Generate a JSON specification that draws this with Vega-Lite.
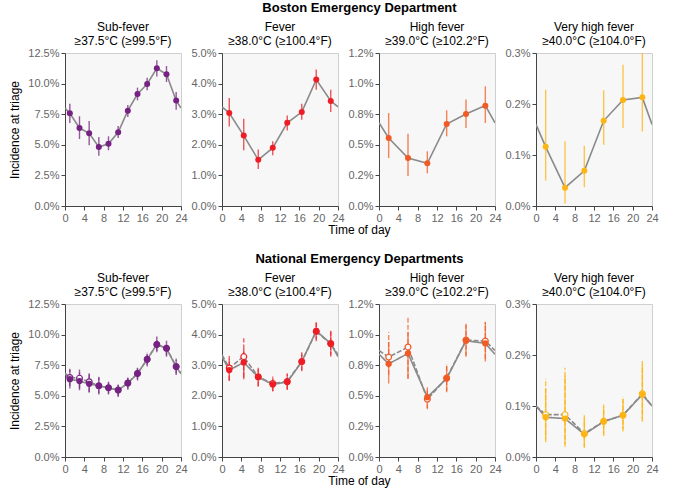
{
  "$schema": "https://vega.github.io/schema/vega-lite/v6.json",
  "padding": {"left": 8, "top": 1, "right": 2, "bottom": 2},
  "background": "white",
  "datasets": {
    "d": [
      {"r": "B", "c": "sub", "s": "a", "t": 0, "v": 8.0},
      {"r": "B", "c": "sub", "s": "a", "t": 1, "v": 7.57, "lo": 6.78, "hi": 8.36},
      {"r": "B", "c": "sub", "s": "a", "t": 3, "v": 6.37, "lo": 5.47, "hi": 7.33},
      {"r": "B", "c": "sub", "s": "a", "t": 5, "v": 5.94, "lo": 4.96, "hi": 6.94},
      {"r": "B", "c": "sub", "s": "a", "t": 7, "v": 4.82, "lo": 4.11, "hi": 5.64},
      {"r": "B", "c": "sub", "s": "a", "t": 9, "v": 5.09, "lo": 4.55, "hi": 5.69},
      {"r": "B", "c": "sub", "s": "a", "t": 11, "v": 6.02, "lo": 5.56, "hi": 6.54},
      {"r": "B", "c": "sub", "s": "a", "t": 13, "v": 7.79, "lo": 7.27, "hi": 8.25},
      {"r": "B", "c": "sub", "s": "a", "t": 15, "v": 9.15, "lo": 8.63, "hi": 9.67},
      {"r": "B", "c": "sub", "s": "a", "t": 17, "v": 9.97, "lo": 9.45, "hi": 10.48},
      {"r": "B", "c": "sub", "s": "a", "t": 19, "v": 11.25, "lo": 10.59, "hi": 11.9},
      {"r": "B", "c": "sub", "s": "a", "t": 21, "v": 10.76, "lo": 10.13, "hi": 11.44},
      {"r": "B", "c": "sub", "s": "a", "t": 23, "v": 8.61, "lo": 7.87, "hi": 9.31},
      {"r": "B", "c": "sub", "s": "a", "t": 24, "v": 8.0},
      {"r": "B", "c": "fev", "s": "a", "t": 0, "v": 3.24},
      {"r": "B", "c": "fev", "s": "a", "t": 1.5, "v": 3.04, "lo": 2.6, "hi": 3.53},
      {"r": "B", "c": "fev", "s": "a", "t": 4.5, "v": 2.3, "lo": 1.82, "hi": 2.85},
      {"r": "B", "c": "fev", "s": "a", "t": 7.5, "v": 1.51, "lo": 1.21, "hi": 1.85},
      {"r": "B", "c": "fev", "s": "a", "t": 10.5, "v": 1.9, "lo": 1.66, "hi": 2.12},
      {"r": "B", "c": "fev", "s": "a", "t": 13.5, "v": 2.72, "lo": 2.47, "hi": 2.96},
      {"r": "B", "c": "fev", "s": "a", "t": 16.5, "v": 3.07, "lo": 2.82, "hi": 3.34},
      {"r": "B", "c": "fev", "s": "a", "t": 19.5, "v": 4.13, "lo": 3.8, "hi": 4.46},
      {"r": "B", "c": "fev", "s": "a", "t": 22.5, "v": 3.43, "lo": 3.07, "hi": 3.8},
      {"r": "B", "c": "fev", "s": "a", "t": 24, "v": 3.24},
      {"r": "B", "c": "hi", "s": "a", "t": 0, "v": 0.68},
      {"r": "B", "c": "hi", "s": "a", "t": 2, "v": 0.556, "lo": 0.392, "hi": 0.76},
      {"r": "B", "c": "hi", "s": "a", "t": 6, "v": 0.392, "lo": 0.245, "hi": 0.591},
      {"r": "B", "c": "hi", "s": "a", "t": 10, "v": 0.349, "lo": 0.267, "hi": 0.447},
      {"r": "B", "c": "hi", "s": "a", "t": 14, "v": 0.67, "lo": 0.569, "hi": 0.782},
      {"r": "B", "c": "hi", "s": "a", "t": 18, "v": 0.752, "lo": 0.637, "hi": 0.871},
      {"r": "B", "c": "hi", "s": "a", "t": 22, "v": 0.82, "lo": 0.678, "hi": 0.978},
      {"r": "B", "c": "hi", "s": "a", "t": 24, "v": 0.68},
      {"r": "B", "c": "vhi", "s": "a", "t": 0, "v": 0.16},
      {"r": "B", "c": "vhi", "s": "a", "t": 2, "v": 0.116, "lo": 0.05, "hi": 0.228},
      {"r": "B", "c": "vhi", "s": "a", "t": 6, "v": 0.036, "lo": 0.005, "hi": 0.127},
      {"r": "B", "c": "vhi", "s": "a", "t": 10, "v": 0.069, "lo": 0.037, "hi": 0.118},
      {"r": "B", "c": "vhi", "s": "a", "t": 14, "v": 0.167, "lo": 0.12, "hi": 0.227},
      {"r": "B", "c": "vhi", "s": "a", "t": 18, "v": 0.208, "lo": 0.153, "hi": 0.277},
      {"r": "B", "c": "vhi", "s": "a", "t": 22, "v": 0.213, "lo": 0.146, "hi": 0.31},
      {"r": "B", "c": "vhi", "s": "a", "t": 24, "v": 0.16},
      {"r": "N", "c": "sub", "s": "a", "t": 0, "v": 6.8},
      {"r": "N", "c": "sub", "s": "a", "t": 1, "v": 6.36, "lo": 5.6, "hi": 7.1},
      {"r": "N", "c": "sub", "s": "a", "t": 3, "v": 6.2, "lo": 5.46, "hi": 6.9},
      {"r": "N", "c": "sub", "s": "a", "t": 5, "v": 5.98, "lo": 5.27, "hi": 6.74},
      {"r": "N", "c": "sub", "s": "a", "t": 7, "v": 5.81, "lo": 5.19, "hi": 6.47},
      {"r": "N", "c": "sub", "s": "a", "t": 9, "v": 5.65, "lo": 5.19, "hi": 6.14},
      {"r": "N", "c": "sub", "s": "a", "t": 11, "v": 5.46, "lo": 4.99, "hi": 5.92},
      {"r": "N", "c": "sub", "s": "a", "t": 13, "v": 6.03, "lo": 5.6, "hi": 6.47},
      {"r": "N", "c": "sub", "s": "a", "t": 15, "v": 6.82, "lo": 6.36, "hi": 7.29},
      {"r": "N", "c": "sub", "s": "a", "t": 17, "v": 7.97, "lo": 7.51, "hi": 8.43},
      {"r": "N", "c": "sub", "s": "a", "t": 19, "v": 9.2, "lo": 8.65, "hi": 9.74},
      {"r": "N", "c": "sub", "s": "a", "t": 21, "v": 8.87, "lo": 8.32, "hi": 9.36},
      {"r": "N", "c": "sub", "s": "a", "t": 23, "v": 7.37, "lo": 6.82, "hi": 7.91},
      {"r": "N", "c": "sub", "s": "a", "t": 24, "v": 6.8},
      {"r": "N", "c": "sub", "s": "b", "t": 0, "v": 6.85},
      {"r": "N", "c": "sub", "s": "b", "t": 1, "v": 6.5, "lo": 5.8, "hi": 7.2},
      {"r": "N", "c": "sub", "s": "b", "t": 3, "v": 6.44, "lo": 5.6, "hi": 7.3},
      {"r": "N", "c": "sub", "s": "b", "t": 5, "v": 6.14, "lo": 5.3, "hi": 7.0},
      {"r": "N", "c": "sub", "s": "b", "t": 7, "v": 5.82, "lo": 5.1, "hi": 6.55},
      {"r": "N", "c": "sub", "s": "b", "t": 9, "v": 5.66, "lo": 5.1, "hi": 6.25},
      {"r": "N", "c": "sub", "s": "b", "t": 11, "v": 5.47, "lo": 4.9, "hi": 6.0},
      {"r": "N", "c": "sub", "s": "b", "t": 13, "v": 6.04, "lo": 5.5, "hi": 6.6},
      {"r": "N", "c": "sub", "s": "b", "t": 15, "v": 6.83, "lo": 6.25, "hi": 7.4},
      {"r": "N", "c": "sub", "s": "b", "t": 17, "v": 7.98, "lo": 7.4, "hi": 8.55},
      {"r": "N", "c": "sub", "s": "b", "t": 19, "v": 9.2, "lo": 8.55, "hi": 9.85},
      {"r": "N", "c": "sub", "s": "b", "t": 21, "v": 8.88, "lo": 8.2, "hi": 9.5},
      {"r": "N", "c": "sub", "s": "b", "t": 23, "v": 7.4, "lo": 6.7, "hi": 8.05},
      {"r": "N", "c": "sub", "s": "b", "t": 24, "v": 6.85},
      {"r": "N", "c": "fev", "s": "a", "t": 0, "v": 3.28},
      {"r": "N", "c": "fev", "s": "a", "t": 1.5, "v": 2.84, "lo": 2.48, "hi": 3.2},
      {"r": "N", "c": "fev", "s": "a", "t": 4.5, "v": 3.09, "lo": 2.54, "hi": 3.53},
      {"r": "N", "c": "fev", "s": "a", "t": 7.5, "v": 2.61, "lo": 2.31, "hi": 2.87},
      {"r": "N", "c": "fev", "s": "a", "t": 10.5, "v": 2.37, "lo": 2.16, "hi": 2.59},
      {"r": "N", "c": "fev", "s": "a", "t": 13.5, "v": 2.45, "lo": 2.21, "hi": 2.7},
      {"r": "N", "c": "fev", "s": "a", "t": 16.5, "v": 3.11, "lo": 2.84, "hi": 3.36},
      {"r": "N", "c": "fev", "s": "a", "t": 19.5, "v": 4.12, "lo": 3.84, "hi": 4.39},
      {"r": "N", "c": "fev", "s": "a", "t": 22.5, "v": 3.71, "lo": 3.33, "hi": 4.09},
      {"r": "N", "c": "fev", "s": "a", "t": 24, "v": 3.28},
      {"r": "N", "c": "fev", "s": "b", "t": 0, "v": 3.34},
      {"r": "N", "c": "fev", "s": "b", "t": 1.5, "v": 2.91, "lo": 2.5, "hi": 3.3},
      {"r": "N", "c": "fev", "s": "b", "t": 4.5, "v": 3.28, "lo": 2.6, "hi": 3.88},
      {"r": "N", "c": "fev", "s": "b", "t": 7.5, "v": 2.62, "lo": 2.3, "hi": 2.92},
      {"r": "N", "c": "fev", "s": "b", "t": 10.5, "v": 2.4, "lo": 2.14, "hi": 2.63},
      {"r": "N", "c": "fev", "s": "b", "t": 13.5, "v": 2.47, "lo": 2.19, "hi": 2.74},
      {"r": "N", "c": "fev", "s": "b", "t": 16.5, "v": 3.12, "lo": 2.8, "hi": 3.42},
      {"r": "N", "c": "fev", "s": "b", "t": 19.5, "v": 4.1, "lo": 3.78, "hi": 4.42},
      {"r": "N", "c": "fev", "s": "b", "t": 22.5, "v": 3.7, "lo": 3.28, "hi": 4.14},
      {"r": "N", "c": "fev", "s": "b", "t": 24, "v": 3.34},
      {"r": "N", "c": "hi", "s": "a", "t": 0, "v": 0.84},
      {"r": "N", "c": "hi", "s": "a", "t": 2, "v": 0.761, "lo": 0.6, "hi": 0.94},
      {"r": "N", "c": "hi", "s": "a", "t": 6, "v": 0.846, "lo": 0.64, "hi": 1.02},
      {"r": "N", "c": "hi", "s": "a", "t": 10, "v": 0.489, "lo": 0.4, "hi": 0.57},
      {"r": "N", "c": "hi", "s": "a", "t": 14, "v": 0.641, "lo": 0.54, "hi": 0.745},
      {"r": "N", "c": "hi", "s": "a", "t": 18, "v": 0.95, "lo": 0.83, "hi": 1.078},
      {"r": "N", "c": "hi", "s": "a", "t": 22, "v": 0.928, "lo": 0.78, "hi": 1.105},
      {"r": "N", "c": "hi", "s": "a", "t": 24, "v": 0.84},
      {"r": "N", "c": "hi", "s": "b", "t": 0, "v": 0.87},
      {"r": "N", "c": "hi", "s": "b", "t": 2, "v": 0.816, "lo": 0.67, "hi": 1.02},
      {"r": "N", "c": "hi", "s": "b", "t": 6, "v": 0.898, "lo": 0.64, "hi": 1.14},
      {"r": "N", "c": "hi", "s": "b", "t": 10, "v": 0.472, "lo": 0.39, "hi": 0.56},
      {"r": "N", "c": "hi", "s": "b", "t": 14, "v": 0.645, "lo": 0.53, "hi": 0.76},
      {"r": "N", "c": "hi", "s": "b", "t": 18, "v": 0.955, "lo": 0.82, "hi": 1.09},
      {"r": "N", "c": "hi", "s": "b", "t": 22, "v": 0.947, "lo": 0.8, "hi": 1.1},
      {"r": "N", "c": "hi", "s": "b", "t": 24, "v": 0.87},
      {"r": "N", "c": "vhi", "s": "a", "t": 0, "v": 0.1},
      {"r": "N", "c": "vhi", "s": "a", "t": 2, "v": 0.078, "lo": 0.035, "hi": 0.135},
      {"r": "N", "c": "vhi", "s": "a", "t": 6, "v": 0.0753, "lo": 0.025, "hi": 0.16},
      {"r": "N", "c": "vhi", "s": "a", "t": 10, "v": 0.0445, "lo": 0.02, "hi": 0.075},
      {"r": "N", "c": "vhi", "s": "a", "t": 14, "v": 0.0694, "lo": 0.045, "hi": 0.097},
      {"r": "N", "c": "vhi", "s": "a", "t": 18, "v": 0.0819, "lo": 0.055, "hi": 0.113},
      {"r": "N", "c": "vhi", "s": "a", "t": 22, "v": 0.1225, "lo": 0.075, "hi": 0.18},
      {"r": "N", "c": "vhi", "s": "a", "t": 24, "v": 0.1},
      {"r": "N", "c": "vhi", "s": "b", "t": 0, "v": 0.1},
      {"r": "N", "c": "vhi", "s": "b", "t": 2, "v": 0.083, "lo": 0.029, "hi": 0.154},
      {"r": "N", "c": "vhi", "s": "b", "t": 6, "v": 0.083, "lo": 0.02, "hi": 0.175},
      {"r": "N", "c": "vhi", "s": "b", "t": 10, "v": 0.046, "lo": 0.018, "hi": 0.082},
      {"r": "N", "c": "vhi", "s": "b", "t": 14, "v": 0.07, "lo": 0.041, "hi": 0.103},
      {"r": "N", "c": "vhi", "s": "b", "t": 18, "v": 0.082, "lo": 0.05, "hi": 0.119},
      {"r": "N", "c": "vhi", "s": "b", "t": 22, "v": 0.124, "lo": 0.069, "hi": 0.188},
      {"r": "N", "c": "vhi", "s": "b", "t": 24, "v": 0.1}
    ]
  },
  "spacing": 16,
  "vconcat": [
    {
      "title": {"text": "Boston Emergency Department", "fontWeight": "bold", "fontSize": 13, "anchor": "middle", "frame": "bounds", "dx": 26, "offset": 6},
      "vconcat": [
        {
          "title": {"text": "Time of day", "orient": "bottom", "anchor": "middle", "frame": "bounds", "dx": 26, "fontSize": 12, "offset": 1},
          "bounds": "flush",
          "spacing": 41,
          "hconcat": [
            {
              "width": 116, "height": 153,
              "data": {"name": "d"},
              "title": {"text": ["Sub-fever", "≥37.5°C (≥99.5°F)"]},
              "transform": [{"filter": "datum.r == 'B' && datum.c == 'sub'"}],
              "encoding": {
                "x": {"field": "t", "type": "quantitative", "scale": {"domain": [0, 24], "nice": false}, "axis": {"values": [0, 4, 8, 12, 16, 20, 24], "title": null}},
                "y": {"field": "v", "type": "quantitative", "scale": {"domain": [0, 12.5], "nice": false}, "axis": {"values": [0, 2.5, 5, 7.5, 10, 12.5], "labelExpr": "format(datum.value, '.1f') + '%'", "title": "Incidence at triage"}}
              },
              "layer": [
                {"mark": {"type": "line", "color": "#8a8a8a", "strokeWidth": 1.6, "clip": true}, "encoding": {"detail": {"field": "s"}}},
                {"transform": [{"filter": "isValid(datum.lo)"}], "mark": {"type": "rule", "color": "#762282", "strokeWidth": 1.4, "opacity": 0.75, "clip": true},
                 "encoding": {"y": {"field": "lo", "type": "quantitative", "scale": {"domain": [0, 12.5], "nice": false}, "axis": {"values": [0, 2.5, 5, 7.5, 10, 12.5], "labelExpr": "format(datum.value, '.1f') + '%'", "title": "Incidence at triage"}}, "y2": {"field": "hi"}}},
                {"transform": [{"filter": "isValid(datum.lo)"}], "mark": {"type": "circle", "color": "#762282", "size": 36, "opacity": 1}}
              ]
            },
            {
              "width": 116, "height": 153,
              "data": {"name": "d"},
              "title": {"text": ["Fever", "≥38.0°C (≥100.4°F)"]},
              "transform": [{"filter": "datum.r == 'B' && datum.c == 'fev'"}],
              "encoding": {
                "x": {"field": "t", "type": "quantitative", "scale": {"domain": [0, 24], "nice": false}, "axis": {"values": [0, 4, 8, 12, 16, 20, 24], "title": null}},
                "y": {"field": "v", "type": "quantitative", "scale": {"domain": [0, 5], "nice": false}, "axis": {"values": [0, 1, 2, 3, 4, 5], "labelExpr": "format(datum.value, '.1f') + '%'", "title": null}}
              },
              "layer": [
                {"mark": {"type": "line", "color": "#8a8a8a", "strokeWidth": 1.6, "clip": true}, "encoding": {"detail": {"field": "s"}}},
                {"transform": [{"filter": "isValid(datum.lo)"}], "mark": {"type": "rule", "color": "#ee1d25", "strokeWidth": 1.4, "opacity": 0.75, "clip": true},
                 "encoding": {"y": {"field": "lo", "type": "quantitative", "scale": {"domain": [0, 5], "nice": false}, "axis": {"values": [0, 1, 2, 3, 4, 5], "labelExpr": "format(datum.value, '.1f') + '%'", "title": null}}, "y2": {"field": "hi"}}},
                {"transform": [{"filter": "isValid(datum.lo)"}], "mark": {"type": "circle", "color": "#ee1d25", "size": 36, "opacity": 1}}
              ]
            },
            {
              "width": 116, "height": 153,
              "data": {"name": "d"},
              "title": {"text": ["High fever", "≥39.0°C (≥102.2°F)"]},
              "transform": [{"filter": "datum.r == 'B' && datum.c == 'hi'"}],
              "encoding": {
                "x": {"field": "t", "type": "quantitative", "scale": {"domain": [0, 24], "nice": false}, "axis": {"values": [0, 4, 8, 12, 16, 20, 24], "title": null}},
                "y": {"field": "v", "type": "quantitative", "scale": {"domain": [0, 1.25], "nice": false}, "axis": {"values": [0, 0.25, 0.5, 0.75, 1, 1.25], "labelExpr": "datum.value == 0.25 ? '0.2%' : datum.value == 0.75 ? '0.8%' : datum.value == 1.25 ? '1.2%' : format(datum.value, '.1f') + '%'", "title": null}}
              },
              "layer": [
                {"mark": {"type": "line", "color": "#8a8a8a", "strokeWidth": 1.6, "clip": true}, "encoding": {"detail": {"field": "s"}}},
                {"transform": [{"filter": "isValid(datum.lo)"}], "mark": {"type": "rule", "color": "#f15a24", "strokeWidth": 1.4, "opacity": 0.75, "clip": true},
                 "encoding": {"y": {"field": "lo", "type": "quantitative", "scale": {"domain": [0, 1.25], "nice": false}, "axis": {"values": [0, 0.25, 0.5, 0.75, 1, 1.25], "labelExpr": "datum.value == 0.25 ? '0.2%' : datum.value == 0.75 ? '0.8%' : datum.value == 1.25 ? '1.2%' : format(datum.value, '.1f') + '%'", "title": null}}, "y2": {"field": "hi"}}},
                {"transform": [{"filter": "isValid(datum.lo)"}], "mark": {"type": "circle", "color": "#f15a24", "size": 36, "opacity": 1}}
              ]
            },
            {
              "width": 116, "height": 153,
              "data": {"name": "d"},
              "title": {"text": ["Very high fever", "≥40.0°C (≥104.0°F)"]},
              "transform": [{"filter": "datum.r == 'B' && datum.c == 'vhi'"}],
              "encoding": {
                "x": {"field": "t", "type": "quantitative", "scale": {"domain": [0, 24], "nice": false}, "axis": {"values": [0, 4, 8, 12, 16, 20, 24], "title": null}},
                "y": {"field": "v", "type": "quantitative", "scale": {"domain": [0, 0.3], "nice": false}, "axis": {"values": [0, 0.1, 0.2, 0.3], "labelExpr": "format(datum.value, '.1f') + '%'", "title": null}}
              },
              "layer": [
                {"mark": {"type": "line", "color": "#8a8a8a", "strokeWidth": 1.6, "clip": true}, "encoding": {"detail": {"field": "s"}}},
                {"transform": [{"filter": "isValid(datum.lo)"}], "mark": {"type": "rule", "color": "#fdb515", "strokeWidth": 1.4, "opacity": 0.75, "clip": true},
                 "encoding": {"y": {"field": "lo", "type": "quantitative", "scale": {"domain": [0, 0.3], "nice": false}, "axis": {"values": [0, 0.1, 0.2, 0.3], "labelExpr": "format(datum.value, '.1f') + '%'", "title": null}}, "y2": {"field": "hi"}}},
                {"transform": [{"filter": "isValid(datum.lo)"}], "mark": {"type": "circle", "color": "#fdb515", "size": 36, "opacity": 1}}
              ]
            }
          ]
        }
      ]
    },
    {
      "title": {"text": "National Emergency Departments", "fontWeight": "bold", "fontSize": 13, "anchor": "middle", "frame": "bounds", "dx": 26, "offset": 6},
      "vconcat": [
        {
          "title": {"text": "Time of day", "orient": "bottom", "anchor": "middle", "frame": "bounds", "dx": 26, "fontSize": 12, "offset": 1},
          "bounds": "flush",
          "spacing": 41,
          "hconcat": [
            {
              "width": 116, "height": 153,
              "data": {"name": "d"},
              "title": {"text": ["Sub-fever", "≥37.5°C (≥99.5°F)"]},
              "transform": [{"filter": "datum.r == 'N' && datum.c == 'sub'"}],
              "encoding": {
                "x": {"field": "t", "type": "quantitative", "scale": {"domain": [0, 24], "nice": false}, "axis": {"values": [0, 4, 8, 12, 16, 20, 24], "title": null}},
                "y": {"field": "v", "type": "quantitative", "scale": {"domain": [0, 12.5], "nice": false}, "axis": {"values": [0, 2.5, 5, 7.5, 10, 12.5], "labelExpr": "format(datum.value, '.1f') + '%'", "title": "Incidence at triage"}}
              },
              "layer": [
                {"mark": {"type": "line", "color": "#8a8a8a", "strokeWidth": 1.6, "clip": true},
                 "encoding": {"detail": {"field": "s"}, "strokeDash": {"field": "s", "type": "nominal", "scale": {"domain": ["a", "b"], "range": [[1, 0], [5, 2]]}, "legend": null}}},
                {"transform": [{"filter": "isValid(datum.lo)"}], "mark": {"type": "rule", "color": "#762282", "strokeWidth": 1.4, "opacity": 0.7, "clip": true},
                 "encoding": {"y": {"field": "lo", "type": "quantitative", "scale": {"domain": [0, 12.5], "nice": false}, "axis": {"values": [0, 2.5, 5, 7.5, 10, 12.5], "labelExpr": "format(datum.value, '.1f') + '%'", "title": "Incidence at triage"}}, "y2": {"field": "hi"}, "strokeDash": {"field": "s", "type": "nominal", "legend": null}}},
                {"transform": [{"filter": "datum.s == 'b' && isValid(datum.lo)"}], "mark": {"type": "point", "shape": "circle", "filled": false, "fill": "#f7f7f7", "color": "#762282", "size": 34, "strokeWidth": 1.2, "opacity": 1}},
                {"transform": [{"filter": "datum.s == 'a' && isValid(datum.lo)"}], "mark": {"type": "circle", "color": "#762282", "size": 40, "opacity": 1}}
              ]
            },
            {
              "width": 116, "height": 153,
              "data": {"name": "d"},
              "title": {"text": ["Fever", "≥38.0°C (≥100.4°F)"]},
              "transform": [{"filter": "datum.r == 'N' && datum.c == 'fev'"}],
              "encoding": {
                "x": {"field": "t", "type": "quantitative", "scale": {"domain": [0, 24], "nice": false}, "axis": {"values": [0, 4, 8, 12, 16, 20, 24], "title": null}},
                "y": {"field": "v", "type": "quantitative", "scale": {"domain": [0, 5], "nice": false}, "axis": {"values": [0, 1, 2, 3, 4, 5], "labelExpr": "format(datum.value, '.1f') + '%'", "title": null}}
              },
              "layer": [
                {"mark": {"type": "line", "color": "#8a8a8a", "strokeWidth": 1.6, "clip": true},
                 "encoding": {"detail": {"field": "s"}, "strokeDash": {"field": "s", "type": "nominal", "scale": {"domain": ["a", "b"], "range": [[1, 0], [5, 2]]}, "legend": null}}},
                {"transform": [{"filter": "isValid(datum.lo)"}], "mark": {"type": "rule", "color": "#ee1d25", "strokeWidth": 1.4, "opacity": 0.7, "clip": true},
                 "encoding": {"y": {"field": "lo", "type": "quantitative", "scale": {"domain": [0, 5], "nice": false}, "axis": {"values": [0, 1, 2, 3, 4, 5], "labelExpr": "format(datum.value, '.1f') + '%'", "title": null}}, "y2": {"field": "hi"}, "strokeDash": {"field": "s", "type": "nominal", "legend": null}}},
                {"transform": [{"filter": "datum.s == 'b' && isValid(datum.lo)"}], "mark": {"type": "point", "shape": "circle", "filled": false, "fill": "#f7f7f7", "color": "#ee1d25", "size": 34, "strokeWidth": 1.2, "opacity": 1}},
                {"transform": [{"filter": "datum.s == 'a' && isValid(datum.lo)"}], "mark": {"type": "circle", "color": "#ee1d25", "size": 40, "opacity": 1}}
              ]
            },
            {
              "width": 116, "height": 153,
              "data": {"name": "d"},
              "title": {"text": ["High fever", "≥39.0°C (≥102.2°F)"]},
              "transform": [{"filter": "datum.r == 'N' && datum.c == 'hi'"}],
              "encoding": {
                "x": {"field": "t", "type": "quantitative", "scale": {"domain": [0, 24], "nice": false}, "axis": {"values": [0, 4, 8, 12, 16, 20, 24], "title": null}},
                "y": {"field": "v", "type": "quantitative", "scale": {"domain": [0, 1.25], "nice": false}, "axis": {"values": [0, 0.25, 0.5, 0.75, 1, 1.25], "labelExpr": "datum.value == 0.25 ? '0.2%' : datum.value == 0.75 ? '0.8%' : datum.value == 1.25 ? '1.2%' : format(datum.value, '.1f') + '%'", "title": null}}
              },
              "layer": [
                {"mark": {"type": "line", "color": "#8a8a8a", "strokeWidth": 1.6, "clip": true},
                 "encoding": {"detail": {"field": "s"}, "strokeDash": {"field": "s", "type": "nominal", "scale": {"domain": ["a", "b"], "range": [[1, 0], [5, 2]]}, "legend": null}}},
                {"transform": [{"filter": "isValid(datum.lo)"}], "mark": {"type": "rule", "color": "#f15a24", "strokeWidth": 1.4, "opacity": 0.7, "clip": true},
                 "encoding": {"y": {"field": "lo", "type": "quantitative", "scale": {"domain": [0, 1.25], "nice": false}, "axis": {"values": [0, 0.25, 0.5, 0.75, 1, 1.25], "labelExpr": "datum.value == 0.25 ? '0.2%' : datum.value == 0.75 ? '0.8%' : datum.value == 1.25 ? '1.2%' : format(datum.value, '.1f') + '%'", "title": null}}, "y2": {"field": "hi"}, "strokeDash": {"field": "s", "type": "nominal", "legend": null}}},
                {"transform": [{"filter": "datum.s == 'b' && isValid(datum.lo)"}], "mark": {"type": "point", "shape": "circle", "filled": false, "fill": "#f7f7f7", "color": "#f15a24", "size": 34, "strokeWidth": 1.2, "opacity": 1}},
                {"transform": [{"filter": "datum.s == 'a' && isValid(datum.lo)"}], "mark": {"type": "circle", "color": "#f15a24", "size": 40, "opacity": 1}}
              ]
            },
            {
              "width": 116, "height": 153,
              "data": {"name": "d"},
              "title": {"text": ["Very high fever", "≥40.0°C (≥104.0°F)"]},
              "transform": [{"filter": "datum.r == 'N' && datum.c == 'vhi'"}],
              "encoding": {
                "x": {"field": "t", "type": "quantitative", "scale": {"domain": [0, 24], "nice": false}, "axis": {"values": [0, 4, 8, 12, 16, 20, 24], "title": null}},
                "y": {"field": "v", "type": "quantitative", "scale": {"domain": [0, 0.3], "nice": false}, "axis": {"values": [0, 0.1, 0.2, 0.3], "labelExpr": "format(datum.value, '.1f') + '%'", "title": null}}
              },
              "layer": [
                {"mark": {"type": "line", "color": "#8a8a8a", "strokeWidth": 1.6, "clip": true},
                 "encoding": {"detail": {"field": "s"}, "strokeDash": {"field": "s", "type": "nominal", "scale": {"domain": ["a", "b"], "range": [[1, 0], [5, 2]]}, "legend": null}}},
                {"transform": [{"filter": "isValid(datum.lo)"}], "mark": {"type": "rule", "color": "#fdb515", "strokeWidth": 1.4, "opacity": 0.8, "clip": true},
                 "encoding": {"y": {"field": "lo", "type": "quantitative", "scale": {"domain": [0, 0.3], "nice": false}, "axis": {"values": [0, 0.1, 0.2, 0.3], "labelExpr": "format(datum.value, '.1f') + '%'", "title": null}}, "y2": {"field": "hi"}, "strokeDash": {"field": "s", "type": "nominal", "legend": null}}},
                {"transform": [{"filter": "datum.s == 'b' && isValid(datum.lo)"}], "mark": {"type": "point", "shape": "circle", "filled": false, "fill": "#f7f7f7", "color": "#fdb515", "size": 34, "strokeWidth": 1.2, "opacity": 1}},
                {"transform": [{"filter": "datum.s == 'a' && isValid(datum.lo)"}], "mark": {"type": "circle", "color": "#fdb515", "size": 40, "opacity": 1}}
              ]
            }
          ]
        }
      ]
    }
  ],
  "config": {
    "font": "Liberation Sans",
    "view": {"fill": "#f7f7f7", "stroke": "#cfcfcf", "strokeWidth": 1},
    "axis": {"grid": false, "labelColor": "#666666", "labelFontSize": 11, "labelPadding": 2, "labelOverlap": false, "labelFlush": false, "tickSize": 4, "tickColor": "#444444", "domainColor": "#444444", "titleFontSize": 12, "titleFontWeight": "normal", "titleColor": "#000000", "titlePadding": 6},
    "title": {"fontSize": 12, "fontWeight": "normal", "color": "#000000", "frame": "group", "offset": -1, "lineHeight": 14}
  }
}
